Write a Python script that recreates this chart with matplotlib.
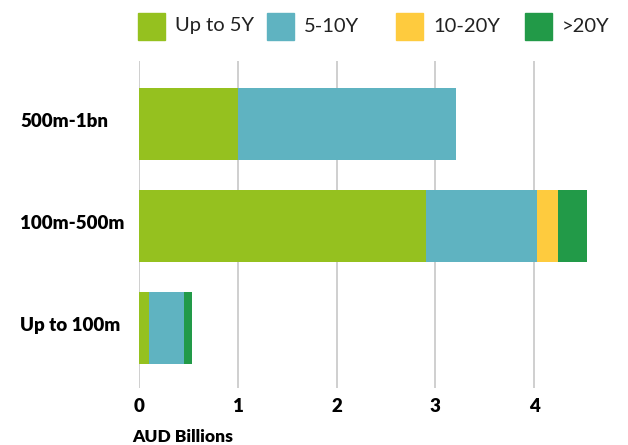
import numpy as np
import matplotlib.pyplot as plt
import matplotlib.transforms as mtransforms
from matplotlib.patches import Rectangle

plt.rcParams['font.family'] = ['Lato', 'DejaVu Sans']

# bond size buckets, top to bottom
categories = ['500m-1bn', '100m-500m', 'Up to 100m']
series = ['Up to 5Y', '5-10Y', '10-20Y', '>20Y']
up_to_5y = [1.00, 2.90, 0.10]
y5_10 = [2.21, 1.13, 0.35]
y10_20 = [0.00, 0.21, 0.00]
over_20y = [0.00, 0.30, 0.08]
colors = ['#95c11f', '#5fb3c1', '#fecb3e', '#229a48']
x_ticks = [0, 1, 2, 3, 4, 5]

W, H = 628, 445
fig = plt.figure(figsize=(W / 100, H / 100), dpi=100)
ax = fig.add_axes([139.3 / W, 1 - 388 / H, 493.5 / W, 327 / H])

y = np.arange(len(categories))
left = np.zeros(len(categories))
for name, vals, c in zip(series, [up_to_5y, y5_10, y10_20, over_20y], colors):
    vals = np.array(vals)
    ax.barh(y, vals, left=left, height=0.71, color=c, label=name, zorder=2)
    left += vals

ax.set_xlim(0, 5)
ax.set_ylim(2.588, -0.618)
ax.set_xticks(x_ticks)
ax.set_xticklabels([str(t) for t in x_ticks], fontsize=13.5, fontweight='heavy')
ax.set_yticks(y)
ax.set_yticklabels(categories, fontsize=13.5, fontweight='heavy', ha='left',
                   va='center')
ax.tick_params(axis='y', length=0, pad=85.7)
ax.tick_params(axis='x', length=0, pad=7)
# nudge category labels up a little
shift = mtransforms.ScaledTranslation(0, 3 / 100, fig.dpi_scale_trans)
for lbl in ax.get_yticklabels():
    lbl.set_transform(lbl.get_transform() + shift)
ax.grid(axis='x', color='#cccccc', linewidth=1.3, zorder=0)
for s in ax.spines.values():
    s.set_visible(False)

fig.text(132 / W, 1 - 437 / H, 'AUD Billions', fontsize=12.5,
         fontweight='heavy', va='center', ha='left')

# legend row, evenly spaced entries
for i, (name, c) in enumerate(zip(series, colors)):
    x0 = 138 + i * 129
    fig.add_artist(Rectangle((x0 / W, 1 - 39.5 / H), 27 / W, 26 / H,
                             transform=fig.transFigure, color=c))
    fig.text((x0 + 37) / W, 1 - 26 / H, name, fontsize=14.5,
             va='center', ha='left', color='#222222')

fig.savefig('out.png', dpi=100)
